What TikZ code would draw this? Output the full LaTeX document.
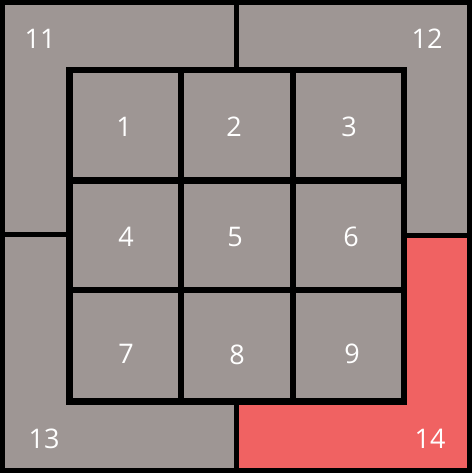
\documentclass[tikz,border=0pt]{standalone}
\usepackage{fontspec}
\setmainfont{Open Sans}
\usetikzlibrary{positioning}
\definecolor{tilegrey}{RGB}{158,150,148}
\definecolor{tilered}{RGB}{240,98,98}
\tikzset{num/.style={text=white,font=\fontsize{27}{27}\selectfont,inner sep=0pt}}

\begin{document}
\begin{tikzpicture}[x=1pt,y=-1pt]
	\useasboundingbox (0,0) rectangle (474,476);
	
	% board and the red piece
	\fill[tilegrey] (2.5,2.5) rectangle (469.5,470.5);
	\fill[tilered] (404,235.5) -- (469.5,235.5) -- (469.5,470.5) -- (236.5,470.5) -- (236.5,401.5) -- (404,401.5) -- cycle;
	
	% outer ring
	\draw[line width=5pt] (2.5,2.5) rectangle (469.5,470.5);
	\draw[line width=5pt] (236.5,2.5) -- (236.5,70);
	\draw[line width=5pt] (236.5,401.5) -- (236.5,470.5);
	\draw[line width=5pt] (2.5,234) -- (69.5,234);
	\draw[line width=5pt] (404,235.5) -- (469.5,235.5);
	
	% inner grid
	\draw[line width=6.5pt] (69.5,70) rectangle (404,401.5);
	\draw[line width=6.5pt] (181,70) -- (181,401.5);
	\draw[line width=6.5pt] (293,70) -- (293,401.5);
	\draw[line width=6.5pt] (69.5,180.5) -- (404,180.5);
	\draw[line width=6.5pt] (69.5,290) -- (404,290);
	
	\node[num] (n1) at (124,127) {1};
	\node[num] (n2) at (234,127) {2};
	\node[num] (n3) at (349,127) {3};
	\node[num] (n4) at (126,237) {4};
	\node[num] (n5) at (235,237) {5};
	\node[num] (n6) at (351,237) {6};
	\node[num] (n7) at (126,354) {7};
	\node[num] (n8) at (237,355) {8};
	\node[num] (n9) at (352,354) {9};
	
	\node[num] (n11) at (40,39) {11};
	\node[num] (n12) at (427,39) {12};
	\node[num] (n13) at (44,439) {13};
	\node[num] (n14) at (430,439) {14};
\end{tikzpicture}
\end{document}
